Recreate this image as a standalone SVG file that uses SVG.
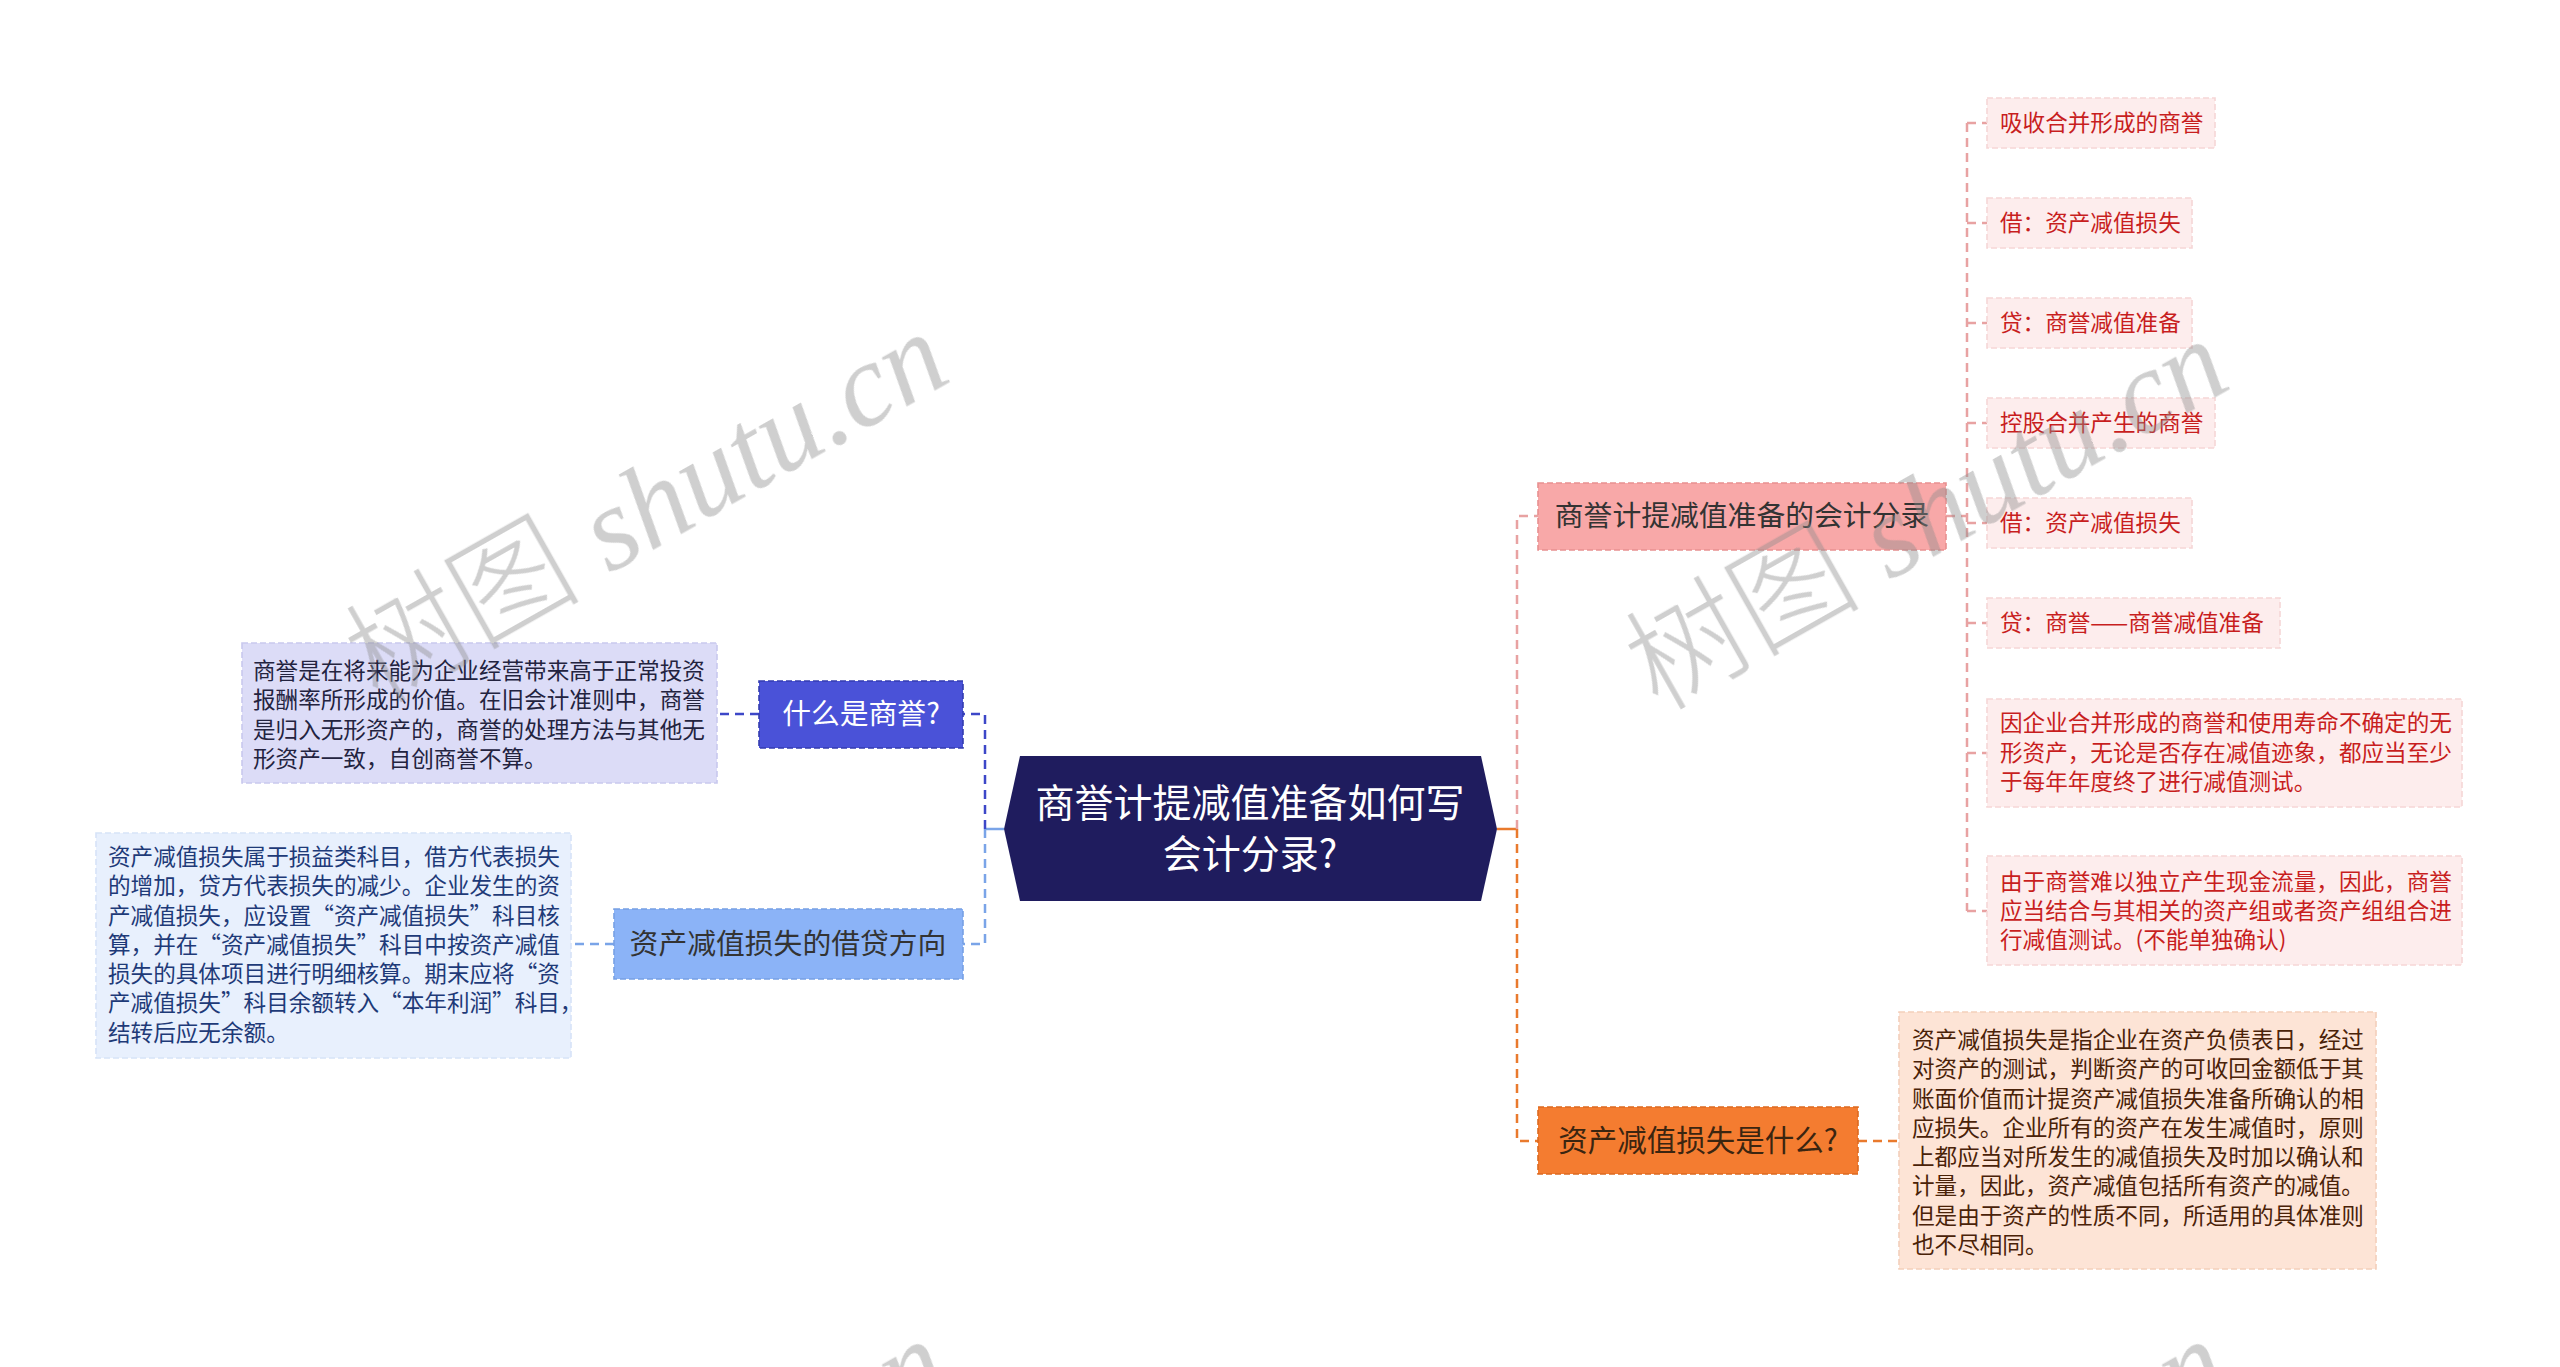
<svg xmlns="http://www.w3.org/2000/svg" width="2560" height="1367" viewBox="0 0 2560 1367">
<style>
text{font-family:"Noto Sans CJK SC","Noto Sans",sans-serif;}
.c{fill:none;stroke-width:2.5;stroke-dasharray:9 6;}
.solid{fill:none;stroke-width:2.5;}
.t22{font-size:22.6px;}
.t28{font-size:28.8px;}
.bd{stroke-width:1.6;stroke-dasharray:6 3;}
.ch{fill:#fdeded;stroke:#f6d6d6;}
.cht{fill:#c81e1e;font-size:22.6px;}
.wm{fill:#8c8c8c;opacity:0.42;}
</style>
<rect width="2560" height="1367" fill="#ffffff"/>

<g id="connectors">
  <path class="solid" stroke="#7aa4e8" d="M1004 829 H985"/>
  <path class="c" stroke="#3d47c8" d="M985 829 V714 H963"/>
  <path class="c" stroke="#7aa4e8" d="M985 829 V944 H963"/>
  <path class="c" stroke="#3d47c8" d="M759 714 H717"/>
  <path class="c" stroke="#7aa4e8" d="M614 944 H571"/>
  <path class="solid" stroke="#e97a2d" d="M1497 829 H1517"/>
  <path class="c" stroke="#e8a2a2" d="M1517 829 V516 H1538"/>
  <path class="c" stroke="#e97a2d" d="M1517 829 V1141 H1538"/>
  <path class="c" stroke="#e97a2d" d="M1858 1141 H1899"/>
  <path class="c" stroke="#e8a2a2" d="M1946 516 H1967"/>
  <path class="c" stroke="#e8a2a2" d="M1967 123 V911"/>
  <path class="c" stroke="#e8a2a2" d="M1967 123 H1987 M1967 223 H1987 M1967 323 H1987 M1967 423 H1987 M1967 523 H1987 M1967 623 H1987 M1967 753 H1987 M1967 911 H1987"/>
</g>

<g id="root">
  <polygon points="1020,756 1481,756 1497,829 1481,901 1020,901 1004,829" fill="#1f1c5e"/>
  <text x="1250" y="817" font-size="39" fill="#ffffff" text-anchor="middle">商誉计提减值准备如何写</text>
  <text x="1250" y="868" font-size="39" fill="#ffffff" text-anchor="middle">会计分录?</text>
</g>

<g id="n-what-goodwill">
  <rect class="bd" x="759" y="681" width="204" height="67" fill="#4a52d8" stroke="#343cb0"/>
  <text class="t28" x="861" y="724" fill="#ffffff" text-anchor="middle">什么是商誉?</text>
</g>
<g id="leaf-what-goodwill">
  <rect class="bd" x="242" y="643" width="475" height="140" fill="#dcdcf7" stroke="#c9c9ee"/>
  <g class="t22" fill="#23233f">
    <text x="253" y="679">商誉是在将来能为企业经营带来高于正常投资</text>
    <text x="253" y="708">报酬率所形成的价值。在旧会计准则中，商誉</text>
    <text x="253" y="738">是归入无形资产的，商誉的处理方法与其他无</text>
    <text x="253" y="767">形资产一致，自创商誉不算。</text>
  </g>
</g>

<g id="n-debit-credit">
  <rect class="bd" x="614" y="909" width="349" height="70" fill="#8bb3f7" stroke="#77a0e4"/>
  <text class="t28" x="788" y="954" fill="#333333" text-anchor="middle">资产减值损失的借贷方向</text>
</g>
<g id="leaf-debit-credit">
  <rect class="bd" x="96" y="833" width="475" height="225" fill="#e8f0fd" stroke="#d6e3f8"/>
  <g class="t22" fill="#1e3a78">
    <text x="108" y="865">资产减值损失属于损益类科目，借方代表损失</text>
    <text x="108" y="894">的增加，贷方代表损失的减少。企业发生的资</text>
    <text x="108" y="924">产减值损失，应设置“资产减值损失”科目核</text>
    <text x="108" y="953">算，并在“资产减值损失”科目中按资产减值</text>
    <text x="108" y="982">损失的具体项目进行明细核算。期末应将“资</text>
    <text x="108" y="1011">产减值损失”科目余额转入“本年利润”科目，</text>
    <text x="108" y="1041">结转后应无余额。</text>
  </g>
</g>

<g id="n-entries">
  <rect class="bd" x="1538" y="483" width="408" height="67" fill="#f8a8a8" stroke="#e89090"/>
  <text class="t28" x="1742" y="526" fill="#333333" text-anchor="middle">商誉计提减值准备的会计分录</text>
</g>

<g id="c1"><rect class="ch bd" x="1987" y="98" width="228" height="50"/><text class="cht" x="2000" y="131">吸收合并形成的商誉</text></g>
<g id="c2"><rect class="ch bd" x="1987" y="198" width="205" height="50"/><text class="cht" x="2000" y="231">借：资产减值损失</text></g>
<g id="c3"><rect class="ch bd" x="1987" y="298" width="205" height="50"/><text class="cht" x="2000" y="331">贷：商誉减值准备</text></g>
<g id="c4"><rect class="ch bd" x="1987" y="398" width="228" height="50"/><text class="cht" x="2000" y="431">控股合并产生的商誉</text></g>
<g id="c5"><rect class="ch bd" x="1987" y="498" width="205" height="50"/><text class="cht" x="2000" y="531">借：资产减值损失</text></g>
<g id="c6"><rect class="ch bd" x="1987" y="598" width="293" height="50"/><text class="cht" x="2000" y="631">贷：商誉——商誉减值准备</text></g>
<g id="c7">
  <rect class="ch bd" x="1987" y="699" width="475" height="108"/>
  <text class="cht" x="2000" y="731">因企业合并形成的商誉和使用寿命不确定的无</text>
  <text class="cht" x="2000" y="761">形资产，无论是否存在减值迹象，都应当至少</text>
  <text class="cht" x="2000" y="790">于每年年度终了进行减值测试。</text>
</g>
<g id="c8">
  <rect class="ch bd" x="1987" y="856" width="475" height="109"/>
  <text class="cht" x="2000" y="890">由于商誉难以独立产生现金流量，因此，商誉</text>
  <text class="cht" x="2000" y="919">应当结合与其相关的资产组或者资产组组合进</text>
  <text class="cht" x="2000" y="948">行减值测试。(不能单独确认)</text>
</g>

<g id="n-impairment">
  <rect class="bd" x="1538" y="1107" width="320" height="67" fill="#f47c30" stroke="#dc6a20"/>
  <text x="1698" y="1151" font-size="29.5" fill="#3b2510" text-anchor="middle">资产减值损失是什么?</text>
</g>
<g id="leaf-impairment">
  <rect class="bd" x="1899" y="1012" width="477" height="257" fill="#fde4d6" stroke="#f3cfbb"/>
  <g class="t22" fill="#4a2208">
    <text x="1912" y="1048">资产减值损失是指企业在资产负债表日，经过</text>
    <text x="1912" y="1077">对资产的测试，判断资产的可收回金额低于其</text>
    <text x="1912" y="1107">账面价值而计提资产减值损失准备所确认的相</text>
    <text x="1912" y="1136">应损失。企业所有的资产在发生减值时，原则</text>
    <text x="1912" y="1165">上都应当对所发生的减值损失及时加以确认和</text>
    <text x="1912" y="1194">计量，因此，资产减值包括所有资产的减值。</text>
    <text x="1912" y="1224">但是由于资产的性质不同，所适用的具体准则</text>
    <text x="1912" y="1253">也不尽相同。</text>
  </g>
</g>

<g id="watermark" class="wm">
  <text transform="translate(378,705) rotate(-29.5)" font-size="118"><tspan font-family="'Noto Sans CJK SC',sans-serif" font-weight="300">树图</tspan><tspan font-family="'Liberation Serif',serif" font-style="italic"> shutu.cn</tspan></text>
  <text transform="translate(1658,712) rotate(-29.5)" font-size="118"><tspan font-family="'Noto Sans CJK SC',sans-serif" font-weight="300">树图</tspan><tspan font-family="'Liberation Serif',serif" font-style="italic"> shutu.cn</tspan></text>
  <text transform="translate(378,1712) rotate(-29.5)" font-size="118"><tspan font-family="'Noto Sans CJK SC',sans-serif" font-weight="300">树图</tspan><tspan font-family="'Liberation Serif',serif" font-style="italic"> shutu.cn</tspan></text>
  <text transform="translate(1658,1712) rotate(-29.5)" font-size="118"><tspan font-family="'Noto Sans CJK SC',sans-serif" font-weight="300">树图</tspan><tspan font-family="'Liberation Serif',serif" font-style="italic"> shutu.cn</tspan></text>
</g>
</svg>
